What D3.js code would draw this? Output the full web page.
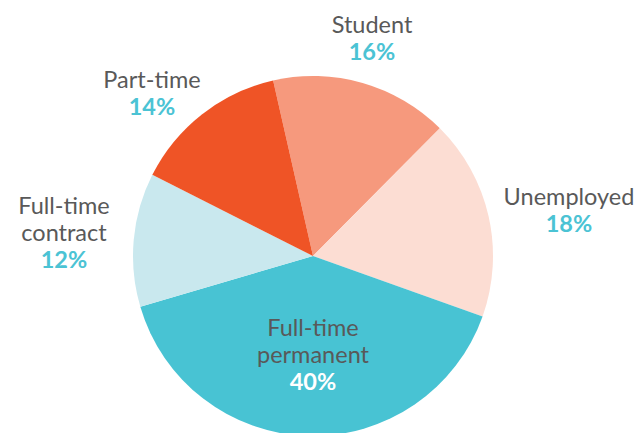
<!DOCTYPE html>
<html>
<head>
<meta charset="utf-8">
<script src="https://cdn.jsdelivr.net/npm/d3@7"></script>
<style>
    body { margin: 0; background: #fff; }
    svg text { font-family: Lato, 'Open Sans', sans-serif; font-size: 23.5px; }
    svg text .name { fill: #595959; }
    svg text .pct { fill: #4bc3d4; font-weight: 700; }
    svg text .pct.inside { fill: #fff; }
</style>
</head>
<body>
<div id="chart"></div>
<script>
var categories = ['Student', 'Unemployed', 'Full-time permanent', 'Full-time contract', 'Part-time'];
var values = [16, 18, 40, 12, 14];
var colors = ['#f6997d', '#fcddd3', '#48c3d3', '#c9e8ee', '#ef5426'];
// label lines for each slice
var labelLines = [['Student'], ['Unemployed'], ['Full-time', 'permanent'], ['Full-time', 'contract'], ['Part-time']];

var WIDTH = 640, HEIGHT = 433;
var CX = 313, CY = 256, R = 180;
var LINE = 27;

var svg = d3.select('#chart').append('svg')
    .attr('width', WIDTH).attr('height', HEIGHT);

var start = -12.8 * Math.PI / 180;
var pie = d3.pie().sort(null)
    .startAngle(start).endAngle(start + 2 * Math.PI);
var arc = d3.arc().innerRadius(0).outerRadius(R);

var arcs = pie(values);

var g = svg.append('g').attr('transform', 'translate(' + CX + ',' + CY + ')');

g.selectAll('path')
    .data(arcs)
    .enter()
    .append('path')
    .attr('d', arc)
    .attr('fill', function(d, i) { return colors[i]; });

// label anchor points (centre x, first baseline y), placed by hand like the original
var labelPos = [[372, 33], [569, 205], [313, 336], [64, 214], [152, 88]];

var labels = svg.selectAll('text.label')
    .data(arcs)
    .enter()
    .append('text')
    .attr('class', 'label')
    .attr('text-anchor', 'middle')
    .attr('x', function(d, i) { return labelPos[i][0]; })
    .attr('y', function(d, i) { return labelPos[i][1]; });

labels.each(function(d, i) {
    var t = d3.select(this);
    var x = labelPos[i][0];
    labelLines[i].forEach(function(line, j) {
        t.append('tspan')
            .attr('class', 'name')
            .attr('x', x)
            .attr('dy', j === 0 ? 0 : LINE)
            .text(line);
    });
    t.append('tspan')
        .attr('class', i === 2 ? 'pct inside' : 'pct')
        .attr('x', x)
        .attr('dy', LINE)
        .text(values[i] + '%');
});
</script>
</body>
</html>
